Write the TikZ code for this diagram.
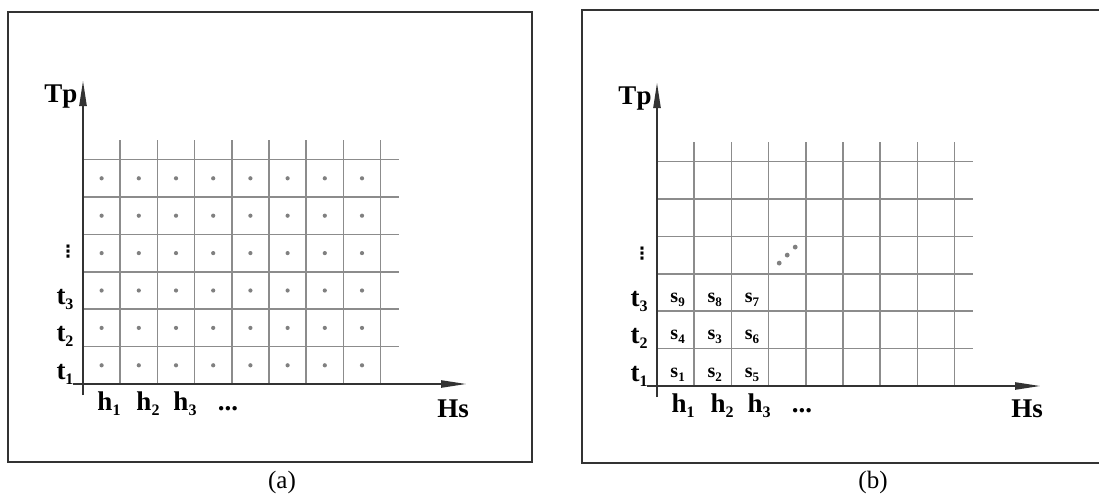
\documentclass[tikz,border=0pt]{standalone}
\usepackage{fontspec}
\setmainfont{Liberation Serif}
\newfontfamily\dvfont{DejaVu Sans}
\usetikzlibrary{arrows.meta}
\newcommand\lsub[1]{\raisebox{-5pt}{\fontsize{16}{16}\selectfont #1}}
\newcommand\ssub[1]{\raisebox{-4pt}{\fontsize{13}{13}\selectfont #1}}
\tikzset{
  frame/.style={draw=black!80, line width=1.8pt},
  gridline/.style={draw=black!45, line width=1.7pt},
  axis/.style={draw=black!80, line width=2.4pt, -{Triangle[length=26pt,width=7pt]}},
  lab/.style={font=\fontsize{27}{29}\selectfont\bfseries, inner sep=0pt},
  vdlab/.style={font=\fontsize{17}{17}\selectfont\dvfont\bfseries, inner sep=0pt},
  slab/.style={font=\fontsize{20}{22}\selectfont\bfseries, inner sep=0pt},
  captxt/.style={font=\fontsize{25}{27}\selectfont, inner sep=0pt},
  gdot/.style={fill=black!50, draw=none},
}
\begin{document}
\begin{tikzpicture}[x=1pt,y=-1pt]
\useasboundingbox (0,0) rectangle (1099,495);
\fill[white] (0,0) rectangle (1099,495);
% frames
\draw[frame] (8,12) rectangle (532,462);
\draw[frame] (1099,10) -- (582,10) -- (582,463) -- (1099,463);
% captions
\node[captxt] (capa) at (282,482) {(a)};
\node[captxt] (capb) at (873,482) {(b)};
% panel (a)
\begin{scope}[shift={(83,384)}]
  \foreach \k in {1,...,8} \draw[gridline] (37.2*\k,0) -- (37.2*\k,-244);
  \foreach \j in {1,...,6} \draw[gridline] (0,-37.4*\j) -- (316,-37.4*\j);
  \coordinate (a-ybot) at (0,11);
  \coordinate (a-ytop) at (0,-304);
  \coordinate (a-xl) at (-10,0);
  \coordinate (a-xr) at (384,0);
  \draw[axis] (a-ybot) -- (a-ytop);
  \draw[axis] (a-xl) -- (a-xr);
  \foreach \i in {1,...,8}
    \foreach \j in {1,...,6}
      \fill[gdot] ({37.2*(\i-0.5)},{-37.4*(\j-0.5)}) circle (2.1);
  \node[lab, anchor=base] (a-Tp) at (-22,-282) {Tp};
  \node[lab, anchor=base] (a-t1) at (-18,{-37.4*0.5+14}) {t\lsub{1}};
  \node[lab, anchor=base] (a-t2) at (-18,{-37.4*1.5+14}) {t\lsub{2}};
  \node[lab, anchor=base] (a-t3) at (-18,{-37.4*2.5+14}) {t\lsub{3}};
  \node[vdlab] (a-vd) at (-15,-132) {⋮};
  \node[lab, anchor=base] (a-h1) at (26,26) {h\lsub{1}};
  \node[lab, anchor=base] (a-h2) at (65,26) {h\lsub{2}};
  \node[lab, anchor=base] (a-h3) at (102,26) {h\lsub{3}};
  \node[lab, anchor=base] (a-hd) at (145,26) {...};
  \node[lab, anchor=base] (a-Hs) at (370,33) {Hs};
\end{scope}
% panel (b)
\begin{scope}[shift={(657,386)}]
  \foreach \k in {1,...,8} \draw[gridline] (37.2*\k,0) -- (37.2*\k,-244);
  \foreach \j in {1,...,6} \draw[gridline] (0,-37.4*\j) -- (316,-37.4*\j);
  \coordinate (b-ybot) at (0,11);
  \coordinate (b-ytop) at (0,-304);
  \coordinate (b-xl) at (-10,0);
  \coordinate (b-xr) at (384,0);
  \draw[axis] (b-ybot) -- (b-ytop);
  \draw[axis] (b-xl) -- (b-xr);
  \fill[gdot] (122.2,-122.9) circle (2.4);
  \fill[gdot] (130.2,-130.9) circle (2.4);
  \fill[gdot] (138.2,-138.9) circle (2.4);
  \foreach \n/\i/\j in {1/1/1,2/2/1,5/3/1,4/1/2,3/2/2,6/3/2,9/1/3,8/2/3,7/3/3}
    \node[slab, anchor=base] (b-s\n) at ({37.2*(\i-0.5)+2},{-37.4*(\j-0.5)+10}) {s\ssub{\n}};
  \node[lab, anchor=base] (b-Tp) at (-22,-282) {Tp};
  \node[lab, anchor=base] (b-t1) at (-18,{-37.4*0.5+14}) {t\lsub{1}};
  \node[lab, anchor=base] (b-t2) at (-18,{-37.4*1.5+14}) {t\lsub{2}};
  \node[lab, anchor=base] (b-t3) at (-18,{-37.4*2.5+14}) {t\lsub{3}};
  \node[vdlab] (b-vd) at (-15,-132) {⋮};
  \node[lab, anchor=base] (b-h1) at (26,26) {h\lsub{1}};
  \node[lab, anchor=base] (b-h2) at (65,26) {h\lsub{2}};
  \node[lab, anchor=base] (b-h3) at (102,26) {h\lsub{3}};
  \node[lab, anchor=base] (b-hd) at (145,26) {...};
  \node[lab, anchor=base] (b-Hs) at (370,31) {Hs};
\end{scope}
\end{tikzpicture}
\end{document}
